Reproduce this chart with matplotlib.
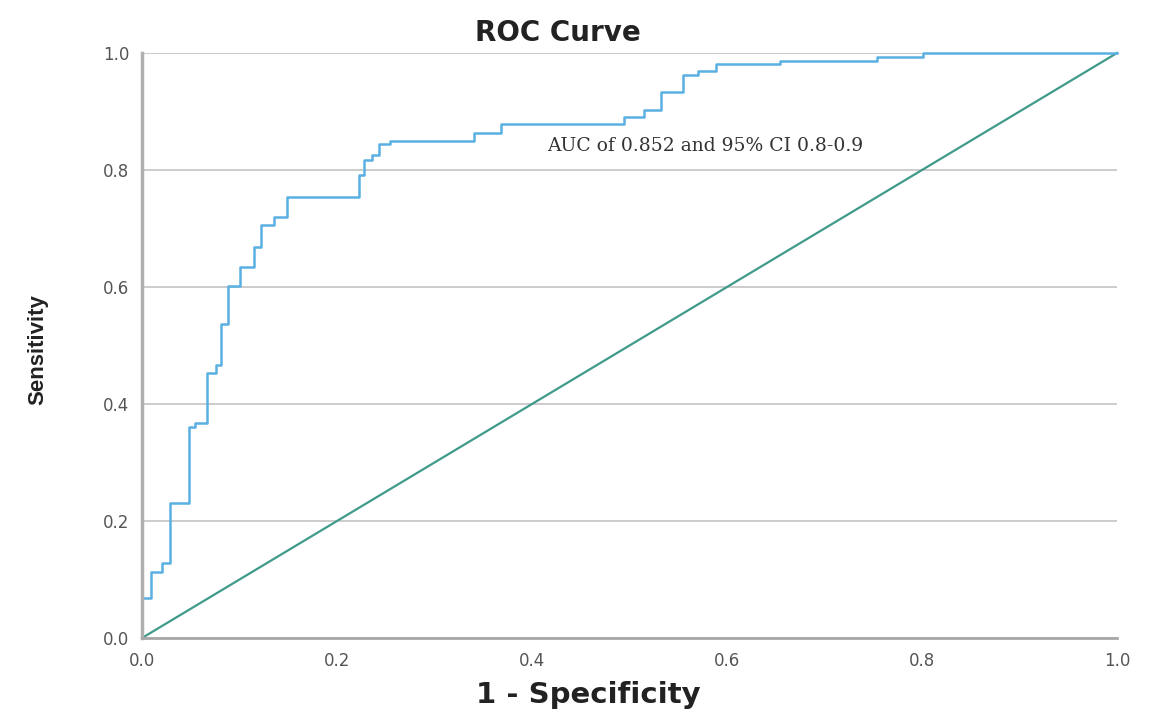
import matplotlib
matplotlib.use("Agg")
import matplotlib.pyplot as plt

# ROC points (1 - specificity, sensitivity)
fpr = [0.0, 0.0, 0.009, 0.009, 0.020, 0.020, 0.029, 0.029, 0.048, 0.048,
       0.054, 0.054, 0.067, 0.067, 0.076, 0.076, 0.081, 0.081, 0.088, 0.088,
       0.101, 0.101, 0.115, 0.115, 0.122, 0.122, 0.135, 0.135, 0.149, 0.149,
       0.223, 0.223, 0.228, 0.228, 0.236, 0.236, 0.243, 0.243, 0.254, 0.254,
       0.341, 0.341, 0.368, 0.368, 0.494, 0.494, 0.515, 0.515, 0.532, 0.532,
       0.555, 0.555, 0.570, 0.570, 0.589, 0.589, 0.654, 0.654, 0.754, 0.754,
       0.801, 0.801, 1.0]
tpr = [0.0, 0.068, 0.068, 0.113, 0.113, 0.128, 0.128, 0.231, 0.231, 0.361,
       0.361, 0.368, 0.368, 0.453, 0.453, 0.467, 0.467, 0.537, 0.537, 0.602,
       0.602, 0.635, 0.635, 0.668, 0.668, 0.706, 0.706, 0.720, 0.720, 0.753,
       0.753, 0.791, 0.791, 0.817, 0.817, 0.826, 0.826, 0.844, 0.844, 0.850,
       0.850, 0.864, 0.864, 0.878, 0.878, 0.890, 0.890, 0.903, 0.903, 0.934,
       0.934, 0.962, 0.962, 0.970, 0.970, 0.981, 0.981, 0.986, 0.986, 0.994,
       0.994, 1.0, 1.0]
ref_x = [0.0, 1.0]
ref_y = [0.0, 1.0]
ticks = [0.0, 0.2, 0.4, 0.6, 0.8, 1.0]
tick_labels = ["0.0", "0.2", "0.4", "0.6", "0.8", "1.0"]
auc_text = "AUC of 0.852 and 95% CI 0.8-0.9"


def main():
    W, H = 1171, 713
    fig = plt.figure(figsize=(W / 100, H / 100), dpi=100)
    ax = fig.add_axes([142 / W, 1 - 638 / H, 975 / W, 585 / H])

    ax.set_xlim(0, 1)
    ax.set_ylim(0, 1)
    ax.set_yticks(ticks)
    ax.set_xticks(ticks)
    ax.set_yticklabels(tick_labels)
    ax.set_xticklabels(tick_labels)
    ax.yaxis.grid(True, color="#c8c8c8", linewidth=1.3)
    ax.set_axisbelow(True)

    ax.plot(ref_x, ref_y, color="#3f9a8c", linewidth=1.6, clip_on=False)
    ax.plot(fpr, tpr, color="#5ab0e2", linewidth=1.8, clip_on=False)

    for s in ["top", "right"]:
        ax.spines[s].set_visible(False)
    ax.spines["left"].set_color("#b0b0b0")
    ax.spines["left"].set_linewidth(2.5)
    ax.spines["bottom"].set_color("#a8a8a8")
    ax.spines["bottom"].set_linewidth(2.0)

    ax.tick_params(axis="both", length=0, labelsize=12, labelcolor="#555555")
    ax.tick_params(axis="y", pad=9)
    ax.tick_params(axis="x", pad=10)

    ax.text(0.578, 0.841, auc_text, ha="center", va="center",
            fontsize=13.5, family="DejaVu Serif", color="#333333")

    # titles placed in figure pixels to follow the reference
    fig.text(558 / W, 1 - 33 / H, "ROC Curve", ha="center", va="center",
             fontsize=20, fontweight="bold", color="#222222")
    fig.text(588 / W, 1 - 695 / H, "1 - Specificity", ha="center", va="center",
             fontsize=21, fontweight="bold", color="#222222")
    fig.text(38 / W, 1 - 350 / H, "Sensitivity", ha="center", va="center",
             rotation=90, fontsize=16, fontweight="bold", color="#222222",
             family="Liberation Sans")

    fig.savefig("out.png", dpi=100, facecolor="white")


if __name__ == "__main__":
    main()
